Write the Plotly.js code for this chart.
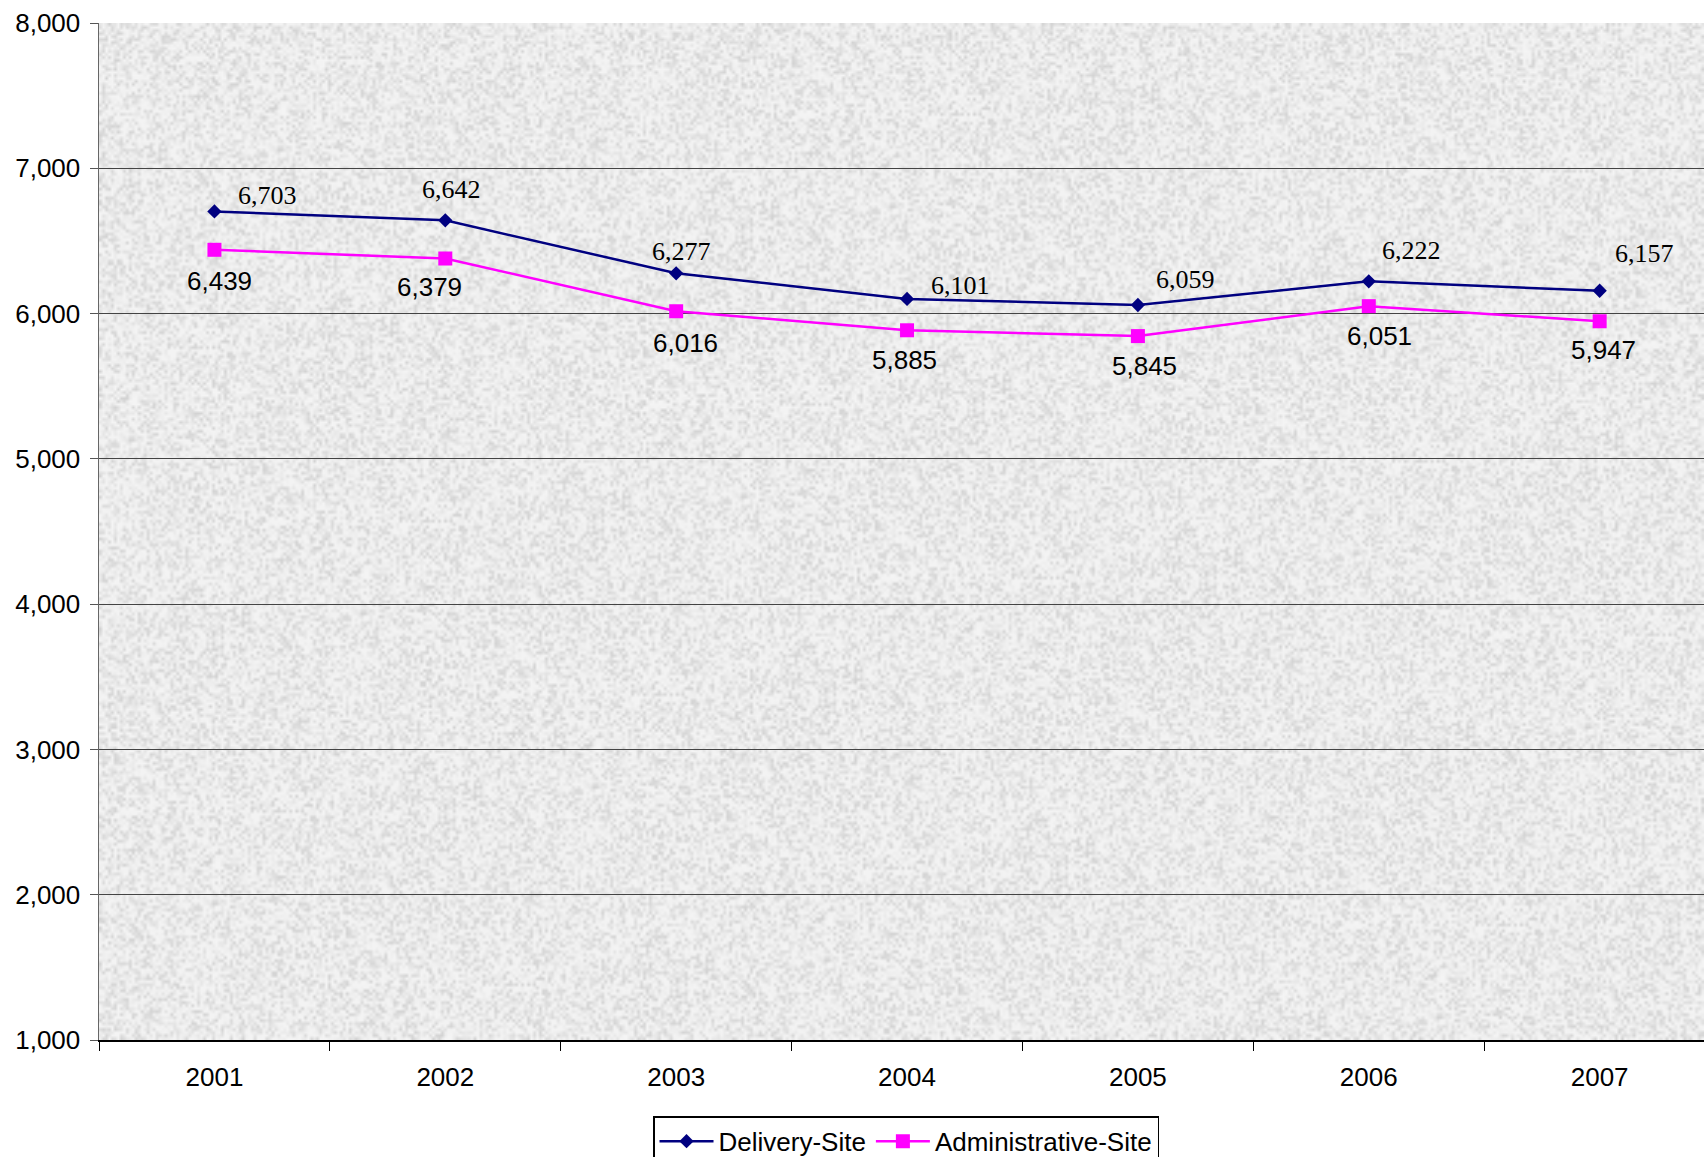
<!DOCTYPE html>
<html>
<head>
<meta charset="utf-8">
<script src="https://cdn.plot.ly/plotly-3.0.1.min.js"></script>
<style>html,body{margin:0;padding:0;background:#fff;}#chart{width:1704px;height:1157px;}</style>
</head>
<body>
<div id="chart"></div>
<script>
// ---- data ----
var years = ['2001', '2002', '2003', '2004', '2005', '2006', '2007'];
var deliverySite = [6703, 6642, 6277, 6101, 6059, 6222, 6157];
var administrativeSite = [6439, 6379, 6016, 5885, 5845, 6051, 5947];
var yTickVals = [1000, 2000, 3000, 4000, 5000, 6000, 7000, 8000];

// ---- label offsets (px, style only) ----
var delivDx = [53, 6, 5, 53, 48, 43, 45];
var delivDy = [16, 31, 22, 13, 26, 31, 37];
var adminDx = [5, -16, 9, -3, 7, 11, 4];
var adminDy = [-31, -28, -32, -30, -30, -30, -29];

function fmt(v) { return v.toLocaleString('en-US'); }

// deterministic light grey mottled texture for the plot background
function makeTexture() {
  var c = document.createElement('canvas');
  c.width = 540; c.height = 340;
  var ctx = c.getContext('2d');
  var img = ctx.createImageData(c.width, c.height);
  var s = 12345;
  function rnd() { s = (s * 1103515245 + 12345) & 0x7fffffff; return s / 0x7fffffff; }
  for (var i = 0; i < c.width * c.height; i++) {
    var r = rnd();
    var g = 244 - Math.floor(r * r * 34);
    img.data[i * 4] = g; img.data[i * 4 + 1] = g; img.data[i * 4 + 2] = g; img.data[i * 4 + 3] = 255;
  }
  ctx.putImageData(img, 0, 0);
  return c.toDataURL('image/png');
}

var traces = [
  {
    x: years, y: deliverySite, name: 'Delivery-Site', type: 'scatter', mode: 'lines+markers',
    line: {color: '#000080', width: 2.5},
    marker: {symbol: 'diamond', size: 11, color: '#000080'}
  },
  {
    x: years, y: administrativeSite, name: 'Administrative-Site', type: 'scatter', mode: 'lines+markers',
    line: {color: '#FF00FF', width: 2.5},
    marker: {symbol: 'square', size: 14, color: '#FF00FF'}
  }
];

var annotations = [];
years.forEach(function (yr, i) {
  annotations.push({
    x: i, y: deliverySite[i], text: fmt(deliverySite[i]), showarrow: false,
    xshift: delivDx[i], yshift: delivDy[i],
    font: {family: 'Liberation Serif, Times New Roman, serif', size: 26, color: '#000'}
  });
  annotations.push({
    x: i, y: administrativeSite[i], text: fmt(administrativeSite[i]), showarrow: false,
    xshift: adminDx[i], yshift: adminDy[i],
    font: {family: 'Liberation Sans, Arial, sans-serif', size: 26, color: '#000'}
  });
});

var layout = {
  width: 1704, height: 1157,
  margin: {l: 99, r: 0, t: 23, b: 117, pad: 0},
  paper_bgcolor: '#ffffff',
  plot_bgcolor: 'rgba(0,0,0,0)',
  font: {family: 'Liberation Sans, Arial, sans-serif', size: 26, color: '#000'},
  showlegend: true,
  legend: {
    orientation: 'h', xref: 'container', yref: 'container',
    x: 0.5317, xanchor: 'center', y: 0.0352, yanchor: 'top',
    bgcolor: '#ffffff', bordercolor: '#000000', borderwidth: 1.5,
    font: {family: 'Liberation Sans, Arial, sans-serif', size: 26, color: '#000'},
    itemwidth: 54
  },
  xaxis: {
    type: 'category', range: [-0.5, 6.452],
    tickson: 'boundaries', ticks: 'outside', ticklen: 9, tickcolor: '#000', tickwidth: 1,
    showline: true, linecolor: '#000', linewidth: 2,
    showgrid: false, zeroline: false,
    ticklabelstandoff: 13,
    tickfont: {family: 'Liberation Sans, Arial, sans-serif', size: 26, color: '#000'},
    fixedrange: true
  },
  yaxis: {
    range: [1000, 8000], tickvals: yTickVals, ticktext: yTickVals.map(fmt),
    ticks: 'outside', ticklen: 8, tickcolor: '#555', tickwidth: 1,
    showline: true, linecolor: '#666', linewidth: 1.5,
    showgrid: true, gridcolor: '#444', gridwidth: 1,
    zeroline: false,
    ticklabelstandoff: 4,
    tickfont: {family: 'Liberation Sans, Arial, sans-serif', size: 26, color: '#000'},
    fixedrange: true
  },
  annotations: annotations,
  images: [{
    source: makeTexture(), xref: 'paper', yref: 'paper', x: 0, y: 1, sizex: 1, sizey: 1,
    sizing: 'stretch', layer: 'below', xanchor: 'left', yanchor: 'top'
  }]
};

Plotly.newPlot('chart', traces, layout, {displayModeBar: false, staticPlot: true});
</script>
</body>
</html>
